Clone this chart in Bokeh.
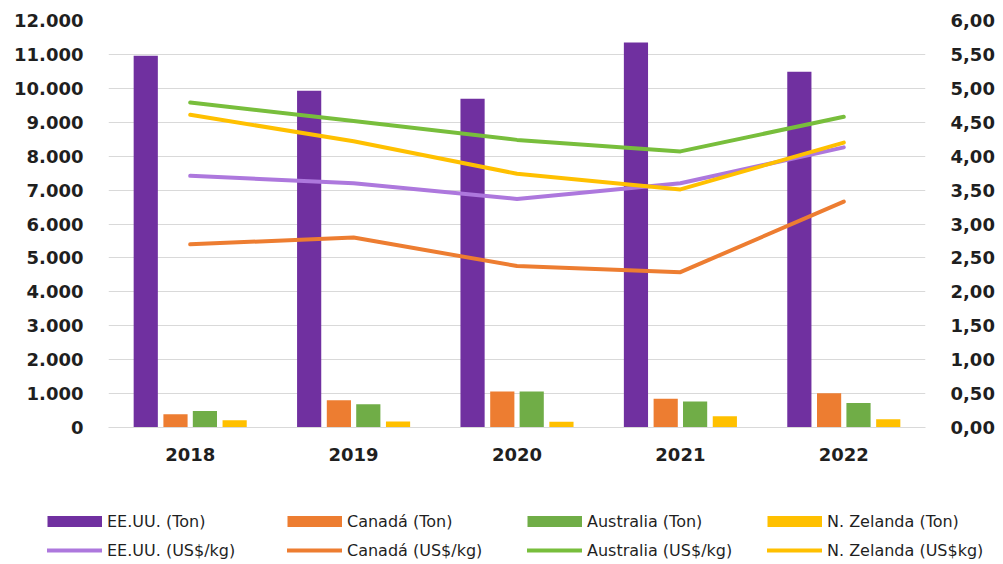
from bokeh.plotting import figure
from bokeh.layouts import column
from bokeh.models import (ColumnDataSource, Range1d, LinearAxis, FixedTicker,
                          CustomJSTickFormatter, Legend, LegendItem)
from bokeh.transform import dodge
from bokeh.embed import file_html
from bokeh.resources import INLINE

# ---- data ----
years = ["2018", "2019", "2020", "2021", "2022"]
usa_ton = [10960, 9930, 9690, 11350, 10490]
can_ton = [390, 805, 1060, 850, 1010]
aus_ton = [490, 686, 1060, 765, 725]
nz_ton = [215, 176, 170, 333, 245]
usa_price = [3.71, 3.60, 3.37, 3.60, 4.13]
can_price = [2.70, 2.80, 2.38, 2.29, 3.33]
aus_price = [4.79, 4.52, 4.24, 4.07, 4.58]
nz_price = [4.61, 4.22, 3.74, 3.51, 4.20]

left_ticks = list(range(0, 12001, 1000))
right_ticks = [i * 0.5 for i in range(13)]

bar_labels = ["EE.UU. (Ton)", "Canadá (Ton)", "Australia (Ton)", "N. Zelanda (Ton)"]
line_labels = ["EE.UU. (US$/kg)", "Canadá (US$/kg)", "Australia (US$/kg)", "N. Zelanda (US$kg)"]

src = ColumnDataSource(dict(year=years, usa_ton=usa_ton, can_ton=can_ton, aus_ton=aus_ton,
                            nz_ton=nz_ton, usa_price=usa_price, can_price=can_price,
                            aus_price=aus_price, nz_price=nz_price))

FONT = "DejaVu Sans"
TXT = "#1f1f1f"

p = figure(width=1000, height=470, x_range=years, y_range=Range1d(0, 12000),
           output_backend="svg", toolbar_location=None,
           min_border_left=108, min_border_right=75, min_border_top=20, min_border_bottom=43)
p.outline_line_color = None
p.extra_y_ranges = {"price": Range1d(0, 6)}

bar_colors = ["#7030A0", "#ED7D31", "#70AD47", "#FFC000"]
line_colors = ["#AD78DD", "#ED7D31", "#78BE3C", "#FFC000"]
bar_fields = ["usa_ton", "can_ton", "aus_ton", "nz_ton"]
line_fields = ["usa_price", "can_price", "aus_price", "nz_price"]
offsets = [-0.272, -0.09, 0.09, 0.272]

for f, c, o in zip(bar_fields, bar_colors, offsets):
    p.vbar(x=dodge("year", o, range=p.x_range), top=f, width=0.148, source=src,
           fill_color=c, line_color=None)

for f, c in zip(line_fields, line_colors):
    p.line(x="year", y=f, source=src, line_color=c, line_width=4,
           line_cap="round", line_join="round", y_range_name="price")

# axes
p.yaxis.ticker = FixedTicker(ticks=left_ticks)
p.yaxis.formatter = CustomJSTickFormatter(
    code="return tick.toFixed(0).replace(/\\B(?=(\\d{3})+(?!\\d))/g, '.');")
ax_r = LinearAxis(y_range_name="price", ticker=FixedTicker(ticks=right_ticks),
                  formatter=CustomJSTickFormatter(code="return tick.toFixed(2).replace('.', ',');"))
p.add_layout(ax_r, "right")

for ax in [p.yaxis[0], ax_r]:
    ax.axis_line_color = None
    ax.major_tick_line_color = None
    ax.minor_tick_line_color = None
    ax.major_tick_out = 0
    ax.major_tick_in = 0
    ax.major_label_standoff = 25
    ax.major_label_text_font = FONT
    ax.major_label_text_font_style = "bold"
    ax.major_label_text_font_size = "18px"
    ax.major_label_text_color = TXT

p.xaxis.axis_line_color = "#D9D9D9"
p.xaxis.axis_line_width = 1
p.xaxis.major_tick_line_color = None
p.xaxis.minor_tick_line_color = None
p.xaxis.major_tick_out = 0
p.xaxis.major_label_standoff = 20
p.xaxis.major_label_text_font = FONT
p.xaxis.major_label_text_font_style = "bold"
p.xaxis.major_label_text_font_size = "18px"
p.xaxis.major_label_text_color = TXT

p.xgrid.grid_line_color = None
p.ygrid.grid_line_color = "#D9D9D9"
p.ygrid.grid_line_width = 1

# ---- legend strip (separate figure; swatch renderers hold only NaN) ----
leg = figure(width=1000, height=92, x_range=Range1d(0, 1), y_range=Range1d(0, 1),
             x_axis_type=None, y_axis_type=None, output_backend="svg",
             toolbar_location=None, min_border=0)
leg.frame_align = False
leg.outline_line_color = None
leg.xgrid.visible = False
leg.ygrid.visible = False

nan = float("nan")
items = []
for l, c in zip(bar_labels, bar_colors):
    r = leg.line(x=[nan, nan], y=[nan, nan], line_color=c, line_width=11, line_cap="butt")
    items.append(LegendItem(label=l, renderers=[r]))
for l, c in zip(line_labels, line_colors):
    r = leg.line(x=[nan, nan], y=[nan, nan], line_color=c, line_width=4, line_cap="round")
    items.append(LegendItem(label=l, renderers=[r]))

legend = Legend(items=items, orientation="horizontal", ncols=4,
                location=(47, 2), padding=0, margin=0, spacing=9,
                glyph_width=55, glyph_height=20, label_height=20, label_width=171,
                label_standoff=5, border_line_color=None, background_fill_alpha=0,
                label_text_font=FONT, label_text_font_size="16px", label_text_color=TXT)
leg.add_layout(legend, "center")

layout = column(p, leg, spacing=0)
open("out.html", "w").write(file_html(layout, INLINE))
